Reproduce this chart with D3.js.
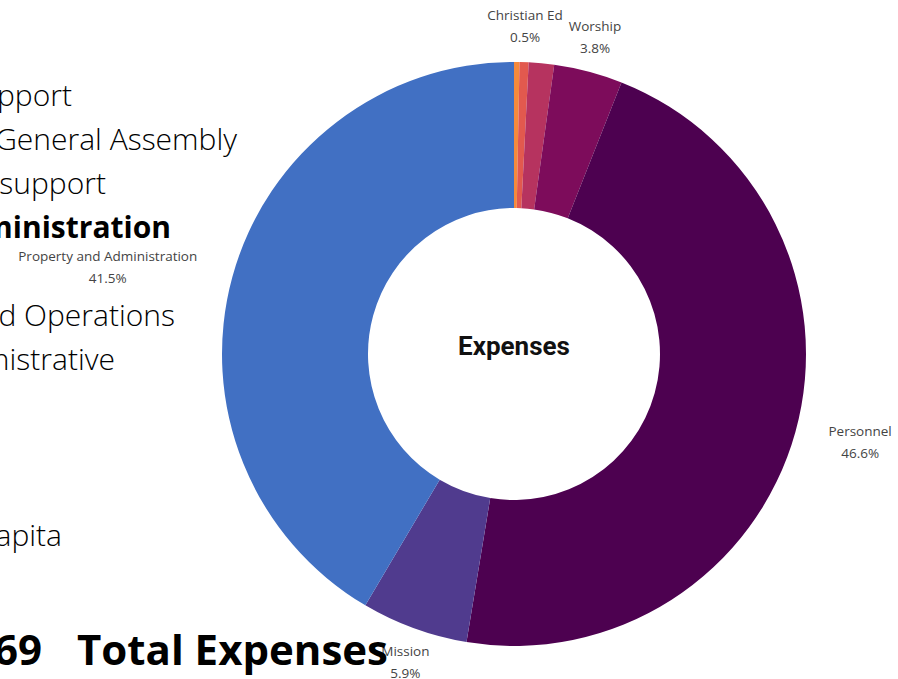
<!DOCTYPE html>
<html>
<head>
<meta charset="utf-8">
<script src="https://cdn.jsdelivr.net/npm/d3@7"></script>
<style>
  html, body { margin: 0; padding: 0; background: #fff; overflow: hidden; }
</style>
</head>
<body>
<div id="root"></div>
<script>
// Dati del grafico (in senso orario a partire dalle ore 12)
const categories = ["", "Christian Ed", "", "Worship", "Personnel", "Mission", "Property and Administration"];
const values = [0.3, 0.5, 1.4, 3.8, 46.6, 5.9, 41.5];
const colors = ["#f58a3c", "#e2594e", "#b6335f", "#7d0c5b", "#4d0150", "#503b8e", "#4170c3"];

// Testo della diapositiva dietro al grafico (tagliato a sinistra)
const slideLines = ["Presbytery Support", "Synod General Assembly", "Mission support", "Property and Administration",
    "Building and Operations", "Administrative", "Per Capita"];
const slideBold = [false, false, false, true, false, false, false];
const slideRow = [0, 1, 2, 3, 5, 6, 10];
const slideRight = [72, 237, 106, 171, 175, 115, 62];
const totalAmount = "$156,769";
const totalLabel = "Total Expenses";

const width = 898, height = 679;
const cx = 514, cy = 354;
const outerR = 292, innerR = 146;

const svg = d3.select("#root").append("svg")
    .attr("width", width)
    .attr("height", height);

// Ciambella
const pie = d3.pie().sort(null).value(d => d);
const arcs = pie(values);
const arc = d3.arc().innerRadius(innerR).outerRadius(outerR);

const chart = svg.append("g")
    .attr("transform", `translate(${cx},${cy})`);

chart.selectAll("path")
    .data(arcs)
    .join("path")
    .attr("fill", (d, i) => colors[i])
    .attr("d", arc);

chart.append("text")
    .attr("x", 0)
    .attr("y", -8)
    .attr("dy", "0.35em")
    .attr("text-anchor", "middle")
    .attr("font-family", "Roboto, sans-serif")
    .attr("font-weight", 700)
    .attr("font-size", 26)
    .attr("fill", "#111")
    .text("Expenses");

// Etichette esterne: due righe centrate tra loro
const labelR = 318;
chart.selectAll("g.label")
    .data(arcs.filter((d, i) => categories[i] !== ""))
    .join("g")
    .attr("class", "label")
    .each(function(d) {
        const a = (d.startAngle + d.endAngle) / 2;
        const s = Math.sin(a), c = Math.cos(a);
        const y = -labelR * c - c * 10;
        const t = d3.select(this).append("text")
            .attr("text-anchor", "middle")
            .attr("font-family", "'Open Sans', sans-serif")
            .attr("font-size", 13.5)
            .attr("fill", "#444");
        const t1 = t.append("tspan").attr("y", y - 6).text(categories[d.index]);
        const t2 = t.append("tspan").attr("y", y + 16).text(d3.format(".1f")(d.data) + "%");
        const w = Math.max(t1.node().getComputedTextLength(), t2.node().getComputedTextLength());
        let x = labelR * s;
        if (Math.abs(s) > 0.6) {
            x += s > 0 ? 8 + w / 2 : -(10 + w / 2);
        }
        t1.attr("x", x);
        t2.attr("x", x);
    });

// Testo della diapositiva (sopra al grafico)
const slide = svg.append("g").attr("class", "slide");
slide.selectAll("text")
    .data(slideLines)
    .join("text")
    .attr("x", (d, i) => slideRight[i])
    .attr("y", (d, i) => 106 + slideRow[i] * 44)
    .attr("text-anchor", "end")
    .attr("font-family", "'Open Sans', sans-serif")
    .attr("font-weight", (d, i) => slideBold[i] ? 700 : 300)
    .attr("font-size", 30)
    .attr("fill", "#000")
    .text(d => d);

slide.append("text")
    .attr("x", 42)
    .attr("y", 665)
    .attr("text-anchor", "end")
    .attr("font-family", "'Open Sans', sans-serif")
    .attr("font-weight", 700)
    .attr("font-size", 42)
    .text(totalAmount);

slide.append("text")
    .attr("x", 388)
    .attr("y", 665)
    .attr("text-anchor", "end")
    .attr("font-family", "'Open Sans', sans-serif")
    .attr("font-weight", 700)
    .attr("font-size", 42)
    .text(totalLabel);
</script>
</body>
</html>
